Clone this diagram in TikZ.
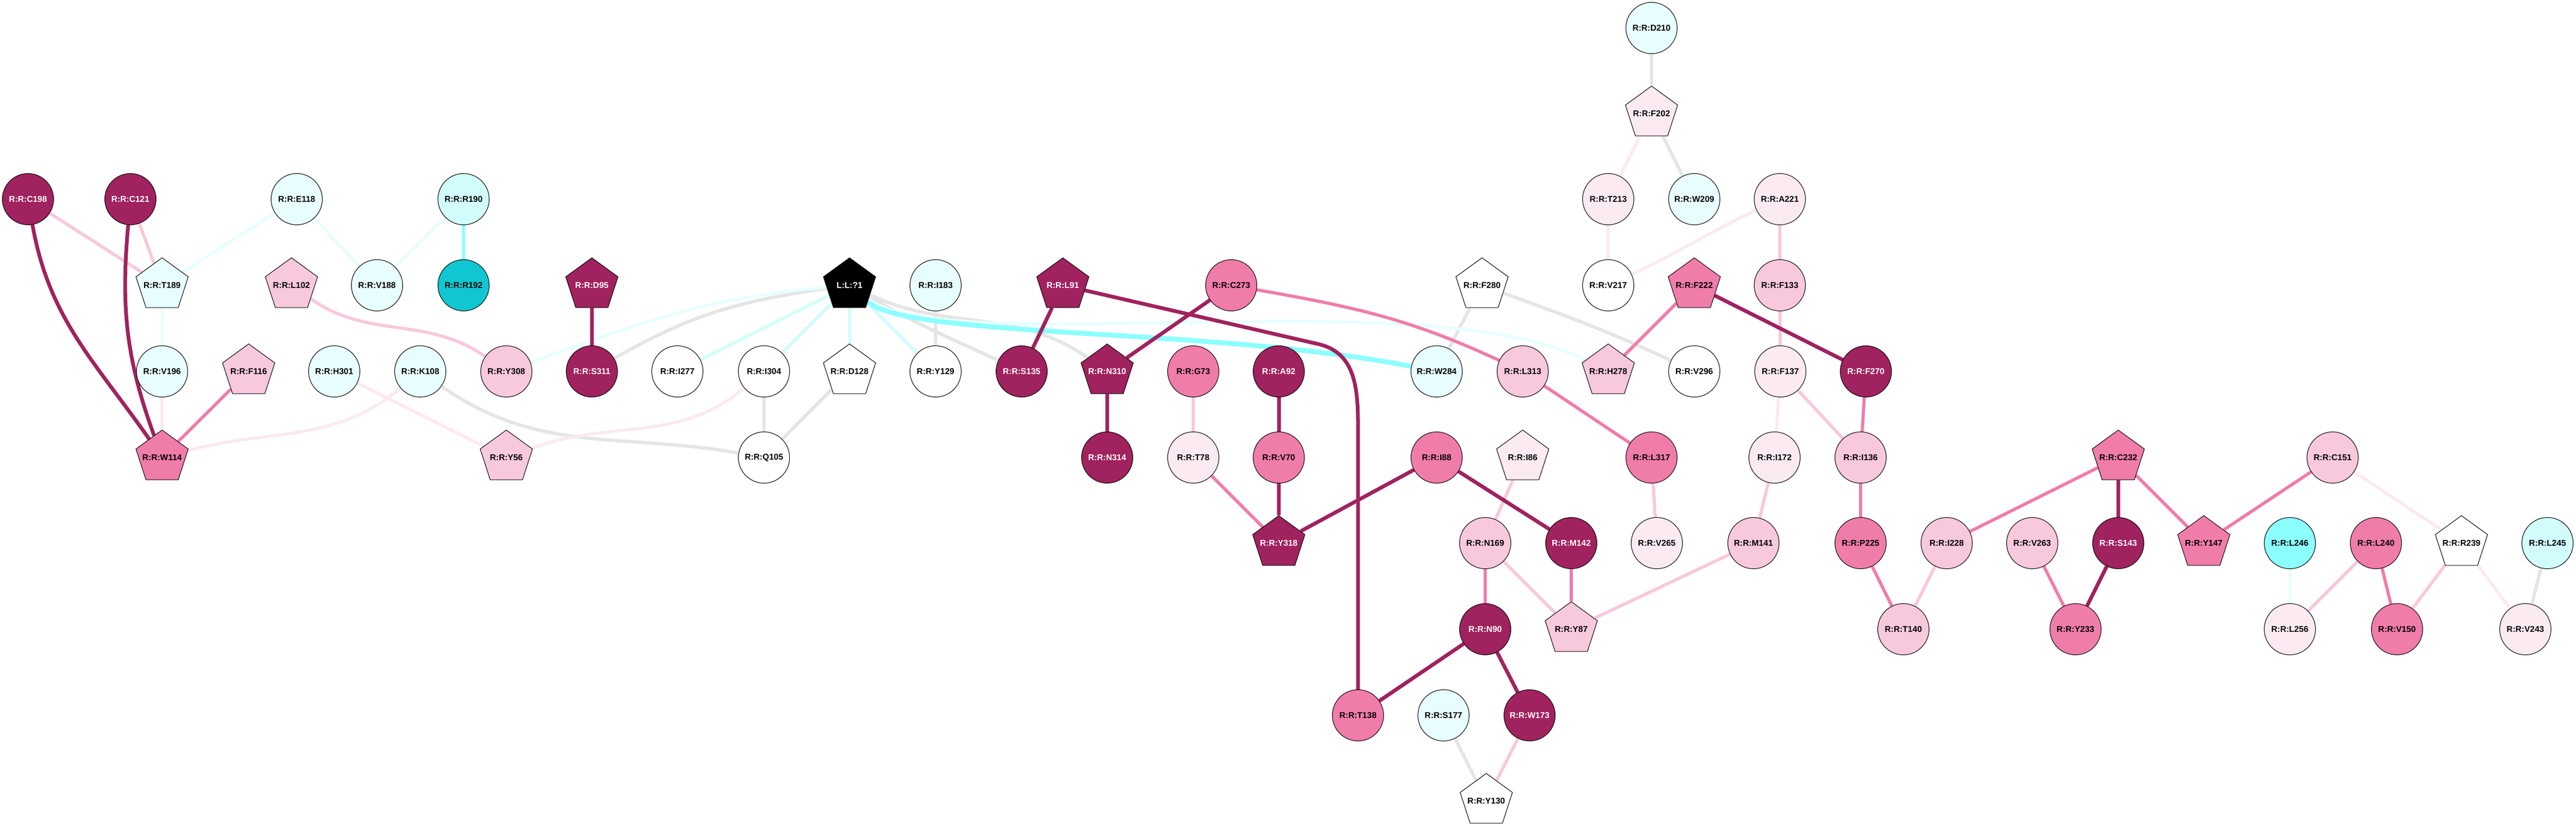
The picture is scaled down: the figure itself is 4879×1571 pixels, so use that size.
\documentclass[tikz,border=0pt]{standalone}
\usepackage{fontspec}
\setmainfont{Liberation Sans}
\usetikzlibrary{shapes.geometric}
\definecolor{cdark}{RGB}{160,34,94}
\definecolor{cmed}{RGB}{240,124,170}
\definecolor{clight}{RGB}{248,200,221}
\definecolor{cvlight}{RGB}{251,234,242}
\definecolor{cvcyan}{RGB}{232,254,254}
\definecolor{cpcyan}{RGB}{210,252,252}
\definecolor{ccyan}{RGB}{140,255,255}
\definecolor{cdcyan}{RGB}{16,198,208}
\definecolor{cgray}{RGB}{229,229,229}
\newcommand\reslabel{\fontsize{4.55}{5}\selectfont\bfseries}
\pgfdeclarelayer{edges}
\pgfsetlayers{edges,main}
\begin{document}
\begin{tikzpicture}[x=0.01cm, y=0.01cm,
  resc/.style={circle, draw, line width=0.3pt, minimum size=0.97cm, inner sep=0pt, font=\reslabel},
  resp/.style={regular polygon, regular polygon sides=5, draw, line width=0.3pt, minimum size=1.04cm, inner xsep=-0.4cm, inner ysep=0pt, font=\reslabel},
  fDk/.style={fill=cdark, text=white},
  fMd/.style={fill=cmed},
  fLt/.style={fill=clight},
  fVl/.style={fill=cvlight},
  fWh/.style={fill=white},
  fVc/.style={fill=cvcyan},
  fPc/.style={fill=cpcyan},
  fCy/.style={fill=ccyan},
  fDc/.style={fill=cdcyan},
  eDk/.style={draw=cdark, line width=2pt},
  eMd/.style={draw=cmed, line width=1.7pt},
  eLt/.style={draw=clight, line width=1.7pt},
  eVl/.style={draw=cvlight, line width=1.7pt},
  eGy/.style={draw=cgray, line width=1.8pt},
  eVc/.style={draw=cvcyan, line width=1.7pt},
  ePc/.style={draw=cpcyan, line width=1.7pt},
  eCy/.style={draw=ccyan, line width=1.8pt}]
\useasboundingbox (0,0) rectangle (4879,-1571);
\node[resc, fVc] (rD210) at (3128,-53){R:R:D210};
\node[resp, fVl] (rF202) at (3128,-215){R:R:F202};
\node[resc, fDk] (rC198) at (53,-377){R:R:C198};
\node[resc, fDk] (rC121) at (247,-377){R:R:C121};
\node[resc, fVc] (rE118) at (562,-377){R:R:E118};
\node[resc, fPc] (rR190) at (878,-377){R:R:R190};
\node[resc, fVl] (rT213) at (3046,-377){R:R:T213};
\node[resc, fVc] (rW209) at (3209,-377){R:R:W209};
\node[resc, fVl] (rA221) at (3371,-377){R:R:A221};
\node[resp, fVc] (rT189) at (307,-540){R:R:T189};
\node[resp, fLt] (rL102) at (552,-540){R:R:L102};
\node[resc, fVc] (rV188) at (714,-540){R:R:V188};
\node[resc, fDc] (rR192) at (878,-540){R:R:R192};
\node[resp, fDk] (rD95) at (1121,-540){R:R:D95};
\node[resp, fill=black, text=white] (lig1) at (1609,-540){L:L:?1};
\node[resc, fVc] (rI183) at (1772,-540){R:R:I183};
\node[resp, fDk] (rL91) at (2013,-540){R:R:L91};
\node[resc, fMd] (rC273) at (2332,-540){R:R:C273};
\node[resp, fWh] (rF280) at (2807,-540){R:R:F280};
\node[resc, fWh] (rV217) at (3046,-540){R:R:V217};
\node[resp, fMd] (rF222) at (3209,-540){R:R:F222};
\node[resc, fLt] (rF133) at (3371,-540){R:R:F133};
\node[resc, fVc] (rV196) at (307,-703){R:R:V196};
\node[resp, fLt] (rF116) at (471,-703){R:R:F116};
\node[resc, fVc] (rH301) at (633,-703){R:R:H301};
\node[resc, fVc] (rK108) at (796,-703){R:R:K108};
\node[resc, fLt] (rY308) at (959,-703){R:R:Y308};
\node[resc, fDk] (rS311) at (1121,-703){R:R:S311};
\node[resc, fWh] (rI277) at (1283,-703){R:R:I277};
\node[resc, fWh] (rI304) at (1447,-703){R:R:I304};
\node[resp, fWh] (rD128) at (1609,-703){R:R:D128};
\node[resc, fWh] (rY129) at (1772,-703){R:R:Y129};
\node[resc, fDk] (rS135) at (1935,-703){R:R:S135};
\node[resp, fDk] (rN310) at (2097,-703){R:R:N310};
\node[resc, fMd] (rG73) at (2260,-703){R:R:G73};
\node[resc, fDk] (rA92) at (2422,-703){R:R:A92};
\node[resc, fVc] (rW284) at (2721,-703){R:R:W284};
\node[resc, fLt] (rL313) at (2884,-703){R:R:L313};
\node[resp, fLt] (rH278) at (3046,-703){R:R:H278};
\node[resc, fWh] (rV296) at (3209,-703){R:R:V296};
\node[resc, fVl] (rF137) at (3372,-703){R:R:F137};
\node[resc, fDk] (rF270) at (3534,-703){R:R:F270};
\node[resp, fMd] (rW114) at (307,-866){R:R:W114};
\node[resp, fLt] (rY56) at (959,-866){R:R:Y56};
\node[resc, fWh] (rQ105) at (1447,-866){R:R:Q105};
\node[resc, fDk] (rN314) at (2097,-866){R:R:N314};
\node[resc, fVl] (rT78) at (2260,-866){R:R:T78};
\node[resc, fMd] (rV70) at (2422,-866){R:R:V70};
\node[resc, fMd] (rI88) at (2721,-866){R:R:I88};
\node[resp, fVl] (rI86) at (2884,-866){R:R:I86};
\node[resc, fMd] (rL317) at (3128,-866){R:R:L317};
\node[resc, fVl] (rI172) at (3361,-866){R:R:I172};
\node[resc, fLt] (rI136) at (3524,-866){R:R:I136};
\node[resp, fMd] (rC232) at (4012,-866){R:R:C232};
\node[resc, fLt] (rC151) at (4418,-866){R:R:C151};
\node[resp, fDk] (rY318) at (2422,-1028){R:R:Y318};
\node[resc, fLt] (rN169) at (2813,-1028){R:R:N169};
\node[resc, fDk] (rM142) at (2976,-1028){R:R:M142};
\node[resc, fVl] (rV265) at (3138,-1028){R:R:V265};
\node[resc, fLt] (rM141) at (3321,-1028){R:R:M141};
\node[resc, fMd] (rP225) at (3524,-1028){R:R:P225};
\node[resc, fLt] (rI228) at (3687,-1028){R:R:I228};
\node[resc, fLt] (rV263) at (3849,-1028){R:R:V263};
\node[resc, fDk] (rS143) at (4012,-1028){R:R:S143};
\node[resp, fMd] (rY147) at (4174,-1028){R:R:Y147};
\node[resc, fCy] (rL246) at (4337,-1028){R:R:L246};
\node[resc, fMd] (rL240) at (4500,-1028){R:R:L240};
\node[resp, fWh] (rR239) at (4662,-1028){R:R:R239};
\node[resc, fPc] (rL245) at (4825,-1028){R:R:L245};
\node[resc, fDk] (rN90) at (2813,-1191){R:R:N90};
\node[resp, fLt] (rY87) at (2976,-1191){R:R:Y87};
\node[resc, fLt] (rT140) at (3605,-1191){R:R:T140};
\node[resc, fMd] (rY233) at (3931,-1191){R:R:Y233};
\node[resc, fVl] (rL256) at (4337,-1191){R:R:L256};
\node[resc, fMd] (rV150) at (4540,-1191){R:R:V150};
\node[resc, fVl] (rV243) at (4783,-1191){R:R:V243};
\node[resc, fMd] (rT138) at (2572,-1354){R:R:T138};
\node[resc, fVc] (rS177) at (2734,-1354){R:R:S177};
\node[resc, fDk] (rW173) at (2897,-1354){R:R:W173};
\node[resp, fWh] (rY130) at (2815,-1516){R:R:Y130};
\begin{pgfonlayer}{edges}
\draw[eGy] (rK108) to[out=-35, in=170] (rQ105);
\draw[eGy] (rI304) -- (rQ105);
\draw[eGy] (rD128) -- (rQ105);
\draw[eGy] (rI183) -- (rY129);
\draw[eGy] (lig1) to[out=188, in=30] (rS311);
\draw[eGy] (lig1) to[out=-30, in=155] (rS135);
\draw[eGy] (lig1) to[out=-25, in=145] (rN310);
\draw[eGy] (rS177) -- (rY130);
\draw[eGy] (rF280) -- (rW284);
\draw[eGy] (rF280) to[out=-20, in=155] (rV296);
\draw[eGy] (rD210) -- (rF202);
\draw[eGy] (rF202) -- (rW209);
\draw[eGy] (rL245) -- (rV243);
\draw[eVc] (rE118) -- (rT189);
\draw[eVc] (rE118) -- (rV188);
\draw[eVc] (rR190) -- (rV188);
\draw[eVc] (rT189) -- (rV196);
\draw[eVc] (rL246) -- (rL256);
\draw[eVc] (lig1) to[out=185, in=20] (rY308);
\draw[eVc] (lig1) .. controls (1800,-680) and (2700,-530) .. (rH278);
\draw[ePc] (lig1) -- (rI277);
\draw[ePc] (lig1) -- (rI304);
\draw[ePc] (lig1) -- (rD128);
\draw[ePc] (lig1) -- (rY129);
\draw[eCy] (rR190) -- (rR192);
\draw[eCy, line width=2.6pt] (lig1) .. controls (1720,-640) and (2300,-620) .. (rW284);
\draw[eVl] (rV196) -- (rW114);
\draw[eVl] (rK108) to[out=-140, in=15] (rW114);
\draw[eVl] (rH301) -- (rY56);
\draw[eVl] (rI304) to[out=-140, in=20] (rY56);
\draw[eVl] (rF202) -- (rT213);
\draw[eVl] (rT213) -- (rV217);
\draw[eVl] (rA221) to[out=-155, in=25] (rV217);
\draw[eVl] (rF137) -- (rI172);
\draw[eVl] (rC151) -- (rR239);
\draw[eVl] (rR239) -- (rV243);
\draw[eLt] (rC198) -- (rT189);
\draw[eLt] (rC121) -- (rT189);
\draw[eLt] (rL102) to[out=-35, in=145] (rY308);
\draw[eLt] (rG73) -- (rT78);
\draw[eLt] (rI86) -- (rN169);
\draw[eLt] (rN169) -- (rY87);
\draw[eLt] (rM141) -- (rY87);
\draw[eLt] (rW173) -- (rY130);
\draw[eLt] (rL317) -- (rV265);
\draw[eLt] (rA221) -- (rF133);
\draw[eLt] (rF133) -- (rF137);
\draw[eLt] (rF137) -- (rI136);
\draw[eLt] (rI172) -- (rM141);
\draw[eLt] (rI228) -- (rT140);
\draw[eLt] (rL240) -- (rL256);
\draw[eLt] (rR239) -- (rV150);
\draw[eMd] (rC273) to[out=-10, in=155] (rL313);
\draw[eMd] (rT78) -- (rY318);
\draw[eMd] (rN169) -- (rN90);
\draw[eMd] (rM142) -- (rY87);
\draw[eMd] (rL313) -- (rL317);
\draw[eMd] (rF222) -- (rH278);
\draw[eMd] (rF270) -- (rI136);
\draw[eMd] (rI136) -- (rP225);
\draw[eMd] (rP225) -- (rT140);
\draw[eMd] (rC232) -- (rI228);
\draw[eMd] (rC232) -- (rY147);
\draw[eMd] (rV263) -- (rY233);
\draw[eMd] (rC151) -- (rY147);
\draw[eMd] (rL240) -- (rV150);
\draw[eMd] (rF116) -- (rW114);
\draw[eDk] (rD95) -- (rS311);
\draw[eDk] (rL91) -- (rS135);
\draw[eDk] (rL91) -- (2500,-652) .. controls (2560,-668) and (2572,-720) .. (2572,-800) -- (rT138);
\draw[eDk] (rC273) -- (rN310);
\draw[eDk] (rN310) -- (rN314);
\draw[eDk] (rA92) -- (rV70);
\draw[eDk] (rV70) -- (rY318);
\draw[eDk] (rY318) -- (rI88);
\draw[eDk] (rI88) -- (rM142);
\draw[eDk] (rN90) -- (rT138);
\draw[eDk] (rN90) -- (rW173);
\draw[eDk] (rF222) -- (rF270);
\draw[eDk] (rC232) -- (rS143);
\draw[eDk] (rS143) -- (rY233);
\draw[eDk] (rC198) to[out=-80, in=125] (rW114);
\draw[eDk] (rC121) to[out=-95, in=110] (rW114);
\end{pgfonlayer}
\end{tikzpicture}
\end{document}
